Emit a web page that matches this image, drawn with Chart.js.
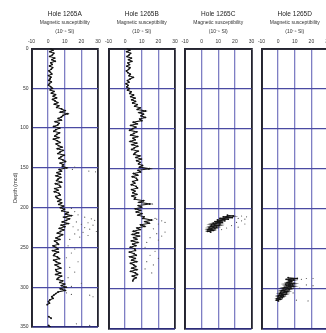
<!DOCTYPE html>
<html><head><meta charset="utf-8">
<script src="https://cdn.jsdelivr.net/npm/chart.js@4"></script>
<style>
html,body{margin:0;padding:0;background:#fff;width:326px;height:333px;overflow:hidden;position:relative}
canvas{position:absolute;left:0;top:0}
</style></head><body>
<canvas id="cA" width="340" height="333"></canvas>
<canvas id="cB" width="340" height="333"></canvas>
<canvas id="cC" width="340" height="333"></canvas>
<canvas id="cD" width="340" height="333"></canvas>
<script>
// ---------- labels ----------
const holeNames = ["Hole 1265A", "Hole 1265B", "Hole 1265C", "Hole 1265D"];
const magLabel = "Magnetic susceptibility";
const unitLabel = "(10\u207B\u2075 SI)";
const depthTitle = "Depth (mcd)";
const xTicks = [-10, 0, 10, 20, 30];
const xTickLabels = ["-10", "0", "10", "20", "30"];
const depthTicks = [0, 50, 100, 150, 200, 250, 300, 350];
const depthTickLabels = ["0", "50", "100", "150", "200", "250", "300", "350"];

// ---------- Hole 1265A ----------
const depthA = [0,2,4,6,8,10,12,14,16,18,20,22,24,26,28,30,32,34,36,38,40,42,44,46,48,50,52,54,56,58,60,62,64,66,68,70,72,74,76,78,80,82,84,86,88,90,92,94,96,98,100,102,104,106,108,110,112,114,116,118,120,122,124,126,128,130,132,134,136,138,140,142,144,146,148,150,152,154,156,158,160,162,164,166,168,170,172,174,176,178,180,182,184,186,188,190,192,194,196,198,200,202,204,206,208,210,212,214,216,218,220,222,224,226,228,230,232,234,236,238,240,242,244,246,248,250,252,254,256,258,260,262,264,266,268,270,272,274,276,278,280,282,284,286,288,290,292,294,296,298,300,302,304,306,308,310,312,314,316,318,320,322,330,337,339,344,348,350];
const suscA = [1.5,2.9,1.1,3.4,2.6,1.0,3.9,2.3,4.2,1.6,
2.4,0.9,2.7,1.9,0.5,1.4,2.2,0.3,1.7,1.2,
0.4,1.9,0.8,0.2,1.5,2.6,1.3,3.5,2.0,4.4,
3.1,5.0,2.7,4.2,5.8,3.8,6.4,5.2,8.1,10.2,
7.4,11.8,9.0,8.0,6.1,7.9,4.3,6.6,5.8,3.4,
6.9,4.6,3.5,6.8,5.2,4.0,6.4,3.3,5.5,7.1,
4.9,6.2,8.3,5.6,9.0,7.2,5.9,9.6,7.8,6.5,
8.9,10.4,7.3,9.2,8.6,11.2,6.7,8.0,5.4,7.3,
4.8,7.6,6.0,5.1,8.0,4.5,6.9,7.5,4.1,5.9,
3.8,6.5,7.2,4.6,5.5,7.6,5.9,8.1,6.5,9.2,
7.4,9.8,8.3,12.0,10.5,14.0,9.6,12.8,11.0,8.6,
12.1,7.9,10.0,6.8,9.4,7.4,5.6,8.6,6.9,4.8,
7.0,3.9,5.2,6.2,3.0,4.7,5.9,2.8,6.1,4.0,
3.3,5.6,6.8,3.4,4.9,7.1,4.3,6.0,7.6,4.6,
5.1,7.4,4.7,8.0,6.2,5.4,8.7,7.1,9.9,8.0,
10.8,7.4,10.2,6.0,4.6,3.4,2.2,3.0,1.0,0.2,
0.8,-0.6,
null,0.4,1.8,null,0.3,1.2];
const outDepthA = [149,152,154,155,201,205,209,212,214,216,218,219,221,222,224,225,227,228,230,231,233,235,237,240,248,252,257,263,268,275,281,288,295,299,307,309,310,312,346,348];
const outSuscA = [16,14.6,24.5,28.5,14,16,18,22,26,28,17,24,20,27,15,22,25,18,29,21,16,24,19,13,12,16,14,11,18,13,16,12,20,14,11,14,25,27,17,25];

// ---------- Hole 1265B ----------
const depthB = [0,2,4,6,8,10,12,14,16,18,20,22,24,26,28,30,32,34,36,38,40,42,44,46,48,50,52,54,56,58,60,62,64,66,68,70,72,74,76,78,80,82,84,86,88,90,92,94,96,98,100,102,104,106,108,110,112,114,116,118,120,122,124,126,128,130,132,134,136,138,140,142,144,146,148,150,152,154,156,158,160,162,164,166,168,170,172,174,176,178,180,182,184,186,188,190,192,194,196,198,200,202,204,206,208,210,212,214,216,218,220,222,224,226,228,230,232,234,236,238,240,242,244,246,248,250,252,254,256,258,260,262,264,266,268,270,272,274,276,278,280,282,284,286,288,290];
const suscB = [1.3,2.8,1.0,3.3,2.4,1.2,3.7,2.1,4.0,1.7,
2.6,1.1,2.9,2.1,0.8,1.6,3.1,2.4,4.9,3.0,
1.4,2.3,0.6,1.8,1.0,2.5,1.5,3.6,2.8,5.0,
3.4,5.9,4.0,6.2,4.6,7.2,5.8,9.0,7.4,12.2,
8.4,11.0,9.6,12.1,8.8,10.0,5.0,7.2,3.5,6.4,
4.6,2.8,7.0,5.2,3.4,7.4,4.8,6.0,3.1,6.9,
4.2,7.5,5.5,4.0,7.8,6.1,5.2,8.8,6.6,9.6,
7.0,9.0,8.1,10.4,8.7,14.6,7.8,9.2,5.1,7.5,
4.4,6.8,7.4,4.6,5.8,3.8,6.6,7.4,4.0,5.9,
4.7,7.0,4.2,6.2,5.6,11.0,8.4,14.8,8.0,9.8,
6.2,9.2,6.8,10.0,7.8,11.4,10.6,15.8,12.0,14.4,
9.4,11.8,7.2,9.0,5.0,8.0,4.4,8.4,5.2,7.0,
3.9,7.6,4.6,6.4,3.2,5.8,6.2,2.7,5.4,6.6,
2.9,6.0,4.0,6.9,3.3,5.2,6.4,4.1,7.0,3.4,
6.2,7.4,4.4,6.6,5.0,4.6];
const outDepthB = [150,151,194,212,213,215,217,219,225,229,231,234,236,239,242,248,253,258,262,266,270,275,280];
const outSuscB = [16,14,16.5,18,19,22,24,20,17,24,19,22,15,20,13,12,18,15,20,13,17,12,16];

// ---------- Hole 1265C ----------
const depthC = [208,209,210,211,212,213,214,215,216,217,218,219,220,221,222,223,224,225,226,227,228,229];
const suscC = [15.5,19.0,13.0,18.5,11.0,16.0,9.5,14.0,8.0,12.5,7.0,11.0,6.0,10.5,5.5,9.0,4.5,8.0,4.0,7.0,3.5,5.5];
const outDepthC = [209,210,212,213,215,217,219,221,223,224,226];
const outSuscC = [24,27,22,26,24,21,26,18,22,15,12];

// ---------- Hole 1265D ----------
const depthD = [286,287,288,289,290,291,292,293,294,295,296,297,298,299,300,301,302,303,304,305,306,307,308,309,310,311,312,313,314,315];
const suscD = [6.0,11.5,4.8,9.5,6.5,8.0,5.5,9.6,4.6,8.8,5.0,9.2,3.8,7.8,3.0,6.6,2.2,5.8,1.6,5.0,1.0,4.4,0.4,3.2,0.0,2.4,-0.6,1.4,-1.0,0.2];
const outDepthD = [287,287,288,295,296,299,305,314,315];
const outSuscD = [17,21,14,17,21,13,9,11,18];

// ---------- layout ----------
const CW = 340;
const FONT = "'Liberation Sans', Arial, Helvetica, sans-serif";
const panels = [
  {id:'cA', left:31.5, right:98,  depth:depthA, susc:suscA, od:outDepthA, os:outSuscA},
  {id:'cB', left:108.5,right:175, depth:depthB, susc:suscB, od:outDepthB, os:outSuscB},
  {id:'cC', left:185,  right:251.5,depth:depthC, susc:suscC, od:outDepthC, os:outSuscC},
  {id:'cD', left:261.5,right:328, depth:depthD, susc:suscD, od:outDepthD, os:outSuscD}
];
const BORDER = '#23232f';

panels.forEach((p, idx) => {
  const first = idx === 0;
  const main = p.depth.map((d, i) => ({x: p.susc[i], y: p.susc[i] === null ? null : d}));
  const outs = p.od.map((d, i) => ({x: p.os[i], y: d}));
  new Chart(document.getElementById(p.id), {
    type: 'scatter',
    data: {datasets: [
      {data: main, showLine: true, spanGaps: false, borderColor: '#161616', borderWidth: 1.1,
       pointRadius: 0.9, pointBackgroundColor: '#111', pointBorderWidth: 0},
      {data: outs, showLine: false, pointRadius: 0.6, pointBackgroundColor: '#555', pointBorderWidth: 0}
    ]},
    options: {
      responsive: false, animation: false, events: [],
      layout: {padding: {top: 0, bottom: 4, left: first ? 0 : p.left, right: CW - p.right}},
      plugins: {
        legend: {display: false}, tooltip: {enabled: false},
        title: {display: true, text: holeNames[idx], fullSize: false, color: '#222',
                font: {family: FONT, size: 6.5, weight: 'normal', lineHeight: 1.2},
                padding: {top: 10, bottom: 0}},
        subtitle: {display: true, text: [magLabel, unitLabel], fullSize: false, color: '#333',
                font: {family: FONT, size: 5, lineHeight: 1.8},
                padding: {top: 0, bottom: 0}}
      },
      scales: {
        x: {type: 'linear', position: 'top', min: -10, max: 30,
            afterBuildTicks: s => { s.ticks = xTicks.map(v => ({value: v})); },
            afterFit: s => { s.height = 12.7; },
            ticks: {callback: (v, i) => xTickLabels[i], font: {family: FONT, size: 5}, color: '#333',
                    padding: 3.5, maxRotation: 0, autoSkip: false},
            grid: {drawTicks: false,
                   color: c => (c.tick && (c.tick.value === 30 || c.tick.value === -10)) ? BORDER : '#7e7ec4',
                   lineWidth: c => (c.tick && (c.tick.value === 30 || c.tick.value === -10)) ? 1.8 : 1.3},
            border: {display: true, color: BORDER, width: 1.8}
        },
        y: {type: 'linear', reverse: true, min: 0, max: 350,
            afterBuildTicks: s => { s.ticks = depthTicks.map(v => ({value: v})); },
            afterFit: s => { s.width = first ? p.left : 0; },
            ticks: {display: first, callback: (v, i) => depthTickLabels[i], font: {family: FONT, size: 5},
                    color: '#333', padding: 3},
            title: {display: first, text: depthTitle, color: '#333', font: {family: FONT, size: 5.5},
                    padding: {top: 11.7, bottom: 0}},
            grid: {drawTicks: false,
                   color: c => (c.tick && c.tick.value === 350) ? '#2c2c78' : (c.tick && c.tick.value === 0 ? BORDER : '#4a4aa2'),
                   lineWidth: c => (c.tick && (c.tick.value === 350 || c.tick.value === 0)) ? 1.8 : 1.3},
            border: {display: true, color: BORDER, width: 1.8}
        }
      }
    }
  });
});
</script>
</body></html>
